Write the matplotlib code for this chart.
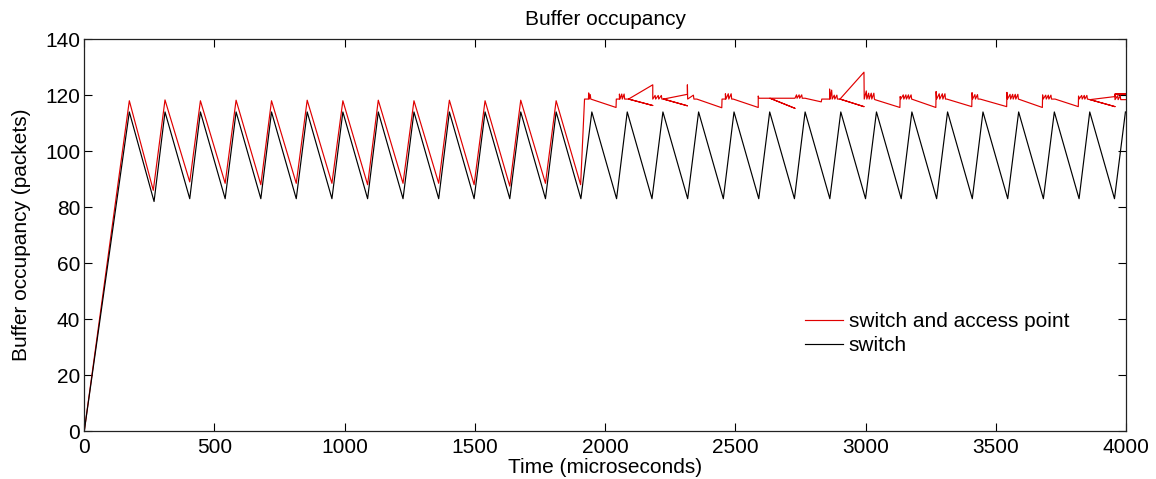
import numpy as np
import matplotlib
matplotlib.use('Agg')
import matplotlib.pyplot as plt

# ============== data ====================================
# switch only: plain triangle wave
black_t = [0, 173, 268, 310, 405, 446, 541, 583, 678, 719, 814, 856, 951,
           993, 1088, 1129, 1224, 1266, 1361, 1402, 1497, 1539, 1634, 1676,
           1771, 1812, 1907, 1949, 2044, 2085, 2180, 2222, 2317, 2359, 2454,
           2495, 2590, 2632, 2727, 2768, 2863, 2905, 3000, 3042, 3137, 3178,
           3273, 3315, 3410, 3451, 3546, 3588, 3683, 3725, 3820, 3861, 3956,
           3998]
black_v = [0, 114, 82, 114, 83, 114, 83, 114, 83, 114, 83, 114, 83,
           114, 83, 114, 83, 114, 83, 114, 83, 114, 83, 114,
           83, 114, 83, 114, 83, 114, 83, 114, 83, 114, 83,
           114, 83, 114, 83, 114, 83, 114, 83, 114, 83, 114,
           83, 114, 83, 114, 83, 114, 83, 114, 83, 114, 83,
           114]

# switch and access point: first part triangle wave
red_t_ramp = [0, 173, 265, 310, 405, 446, 541, 583, 678, 719, 814, 856, 951,
              993, 1088, 1129, 1224, 1266, 1361, 1402, 1497, 1539, 1634, 1676,
              1771, 1812, 1906]
red_v_ramp = [0, 118, 86, 118.3, 89, 118, 88.5, 118.2, 88, 118, 88.5, 118.2, 88.5,
              118, 88, 118.2, 88.5, 118, 88.5, 118.2, 88, 118, 87.5, 118.2,
              88.5, 118, 88]

# second part: buffer stays near the cap (time not sorted in the raw log)
red_t_cap = [1921, 1936, 1937, 1939, 1943, 1945, 2042, 2043,
             2055, 2055, 2057, 2064, 2066, 2073, 2075,
             2090, 2183, 2090, 2183, 2183,
             2192, 2194, 2204, 2206, 2216, 2218,
             2224, 2316, 2224, 2316, 2316, 2317,
             2339, 2341, 2352, 2448, 2449,
             2462, 2462, 2464, 2473, 2475, 2484, 2486,
             2492, 2588, 2588, 2590,
             2633, 2729, 2633, 2729,
             2735, 2737, 2745, 2747, 2755, 2757,
             2768, 2830, 2832,
             2862, 2862, 2864, 2870, 2872, 2880, 2882, 2890, 2892,
             2902, 2994, 2902, 2994, 2995,
             3003, 3005, 3012, 3014, 3022, 3024, 3032, 3034,
             3036, 3132, 3133, 3135,
             3145, 3147, 3155, 3157, 3165, 3167, 3175, 3177,
             3270, 3271, 3273,
             3283, 3285, 3295, 3297, 3305, 3307,
             3312, 3408, 3409, 3411,
             3420, 3422, 3430, 3432,
             3440, 3542, 3543, 3545,
             3555, 3557, 3565, 3567, 3575, 3577, 3585, 3587,
             3679, 3680, 3682,
             3692, 3694, 3702, 3704, 3712, 3714,
             3728, 3817, 3818, 3820,
             3830, 3832, 3840, 3842, 3850, 3852,
             3862, 3958, 3862, 3958, 3958, 4000, 3958, 3958,
             3968, 3970, 3978, 3980, 4000]
red_v_cap = [118.6, 118.6, 120.8, 118.6, 120.2, 118.6, 115.6, 118.6,
             118.6, 120.4, 118.6, 120.4, 118.6, 120.4, 118.6,
             118.6, 116.3, 118.6, 123.7, 118.6,
             119.9, 118.6, 119.9, 118.6, 119.9, 118.6,
             118.6, 116.2, 118.6, 120.3, 123.7, 118.6,
             120.0, 118.6, 118.6, 115.5, 118.6,
             118.6, 120.5, 118.6, 120.5, 118.6, 120.5, 118.6,
             118.6, 115.6, 119.7, 118.9,
             118.9, 115.3, 118.9, 118.9,
             120.1, 118.9, 120.1, 118.9, 120.1, 118.9,
             118.9, 117.6, 118.6,
             118.6, 122.2, 118.6, 121.8, 118.6, 120.0, 118.6, 120.0, 118.6,
             118.6, 115.9, 118.6, 128.2, 118.6,
             121.5, 118.6, 120.7, 118.6, 120.7, 118.6, 120.7, 118.6,
             118.4, 115.6, 119.5, 118.6,
             120.1, 118.6, 120.1, 118.6, 120.1, 118.6, 120.1, 118.6,
             115.6, 121.3, 118.6,
             120.5, 118.6, 120.5, 118.6, 120.5, 118.6,
             118.6, 115.9, 120.9, 118.6,
             120.2, 118.6, 120.2, 118.6,
             118.6, 115.9, 121.0, 118.6,
             120.3, 118.6, 120.3, 118.6, 120.3, 118.6, 120.3, 118.6,
             115.6, 120.1, 118.6,
             120.0, 118.6, 120.0, 118.6, 120.0, 118.6,
             118.6, 115.9, 119.7, 118.6,
             119.9, 118.6, 119.9, 118.6, 119.9, 118.6,
             118.4, 115.9, 118.4, 119.5, 120.4, 120.4, 120.4, 118.4,
             119.8, 118.4, 119.8, 118.4, 118.4]

red_t = red_t_ramp + red_t_cap
red_v = red_v_ramp + red_v_cap

# =============== plot ===============
plt.rcParams['font.family'] = ['Liberation Sans', 'DejaVu Sans']

fig = plt.figure(figsize=(11.56, 4.79), dpi=100)
ax = fig.add_axes([0.0729, 0.1002, 0.9011, 0.818])

ax.plot(red_t, red_v, color='#e00000', lw=0.85, label='switch and access point')
ax.plot(black_t, black_v, color='k', lw=0.85, label='switch')

ax.set_xlim(0, 4000)
ax.set_ylim(0, 140)
ax.set_xticks(np.arange(0, 4001, 500))
ax.set_yticks(np.arange(0, 141, 20))
ax.tick_params(direction='in', length=6, width=0.8, labelsize=15,
               top=True, right=True)
ax.tick_params(axis='x', pad=5)
ax.tick_params(axis='y', pad=3)
for s in ax.spines.values():
    s.set_linewidth(0.9)
    s.set_color('#222222')

ax.set_xlabel('Time (microseconds)', fontsize=15, labelpad=1)
ax.set_ylabel('Buffer occupancy (packets)', fontsize=15, labelpad=10)
ax.set_title('Buffer occupancy', fontsize=15, pad=10)

leg = ax.legend(loc='upper left', bbox_to_anchor=(0.692, 0.303), frameon=False,
                fontsize=15, handlelength=1.8, handletextpad=0.3,
                labelspacing=0.25, borderaxespad=0, borderpad=0)

fig.savefig('out.png', dpi=100)
